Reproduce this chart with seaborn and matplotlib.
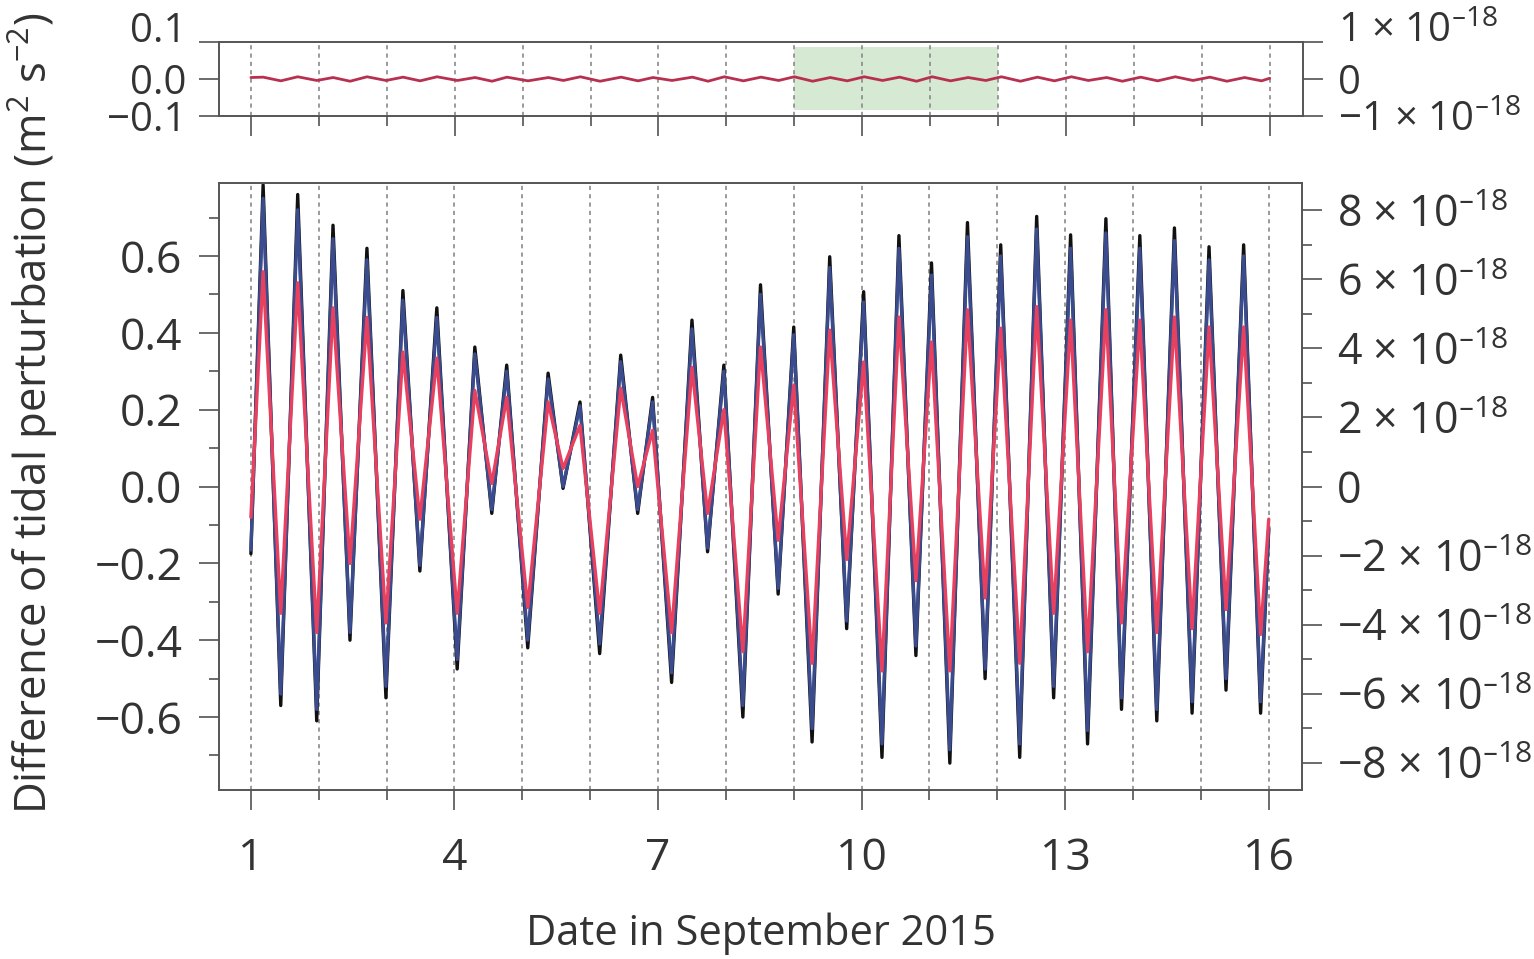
import numpy as np
import pandas as pd
import matplotlib
matplotlib.use("Agg")
import matplotlib.pyplot as plt
import seaborn as sns
from matplotlib.ticker import MultipleLocator, FixedLocator

# extrema (day of September 2015)
day_start, day_end = 1.0, 16.0
peak_days = [1.18, 1.69, 2.21, 2.71, 3.24, 3.74, 4.30, 4.77, 5.38, 5.85, 6.45, 6.92, 7.50, 7.97, 8.51,
             9.00, 9.53, 10.03, 10.55, 11.03, 11.56, 12.05, 12.58, 13.08, 13.60, 14.10, 14.61, 15.12, 15.63]
trough_days = [1.44, 1.97, 2.46, 2.99, 3.49, 4.04, 4.55, 5.08, 5.60, 6.14, 6.70, 7.20, 7.73, 8.25, 8.77,
               9.27, 9.78, 10.30, 10.80, 11.30, 11.82, 12.33, 12.83, 13.33, 13.83, 14.35, 14.87, 15.37, 15.88]

black_peaks = [0.785, 0.76, 0.68, 0.62, 0.51, 0.465, 0.363, 0.316, 0.295, 0.22, 0.342, 0.232, 0.433, 0.316, 0.525,
               0.415, 0.598, 0.507, 0.653, 0.582, 0.687, 0.629, 0.703, 0.655, 0.697, 0.653, 0.673, 0.624, 0.629]
black_troughs = [-0.57, -0.61, -0.40, -0.55, -0.22, -0.475, -0.07, -0.42, -0.005, -0.435, -0.07, -0.51, -0.17, -0.60, -0.28,
                 -0.665, -0.37, -0.705, -0.44, -0.72, -0.50, -0.705, -0.55, -0.67, -0.58, -0.61, -0.59, -0.53, -0.59]
blue_peaks = [0.75, 0.72, 0.645, 0.59, 0.485, 0.44, 0.345, 0.30, 0.28, 0.21, 0.325, 0.22, 0.41, 0.30, 0.50,
              0.395, 0.57, 0.48, 0.62, 0.55, 0.65, 0.60, 0.67, 0.62, 0.66, 0.62, 0.64, 0.59, 0.60]
blue_troughs = [-0.54, -0.58, -0.38, -0.52, -0.205, -0.45, -0.06, -0.40, 0.0, -0.41, -0.06, -0.485, -0.16, -0.57, -0.265,
                -0.63, -0.35, -0.67, -0.415, -0.685, -0.475, -0.67, -0.52, -0.635, -0.55, -0.58, -0.56, -0.50, -0.56]
red_peaks = [0.559, 0.53, 0.465, 0.44, 0.35, 0.334, 0.25, 0.232, 0.22, 0.159, 0.256, 0.146, 0.31, 0.20, 0.363,
             0.264, 0.407, 0.324, 0.441, 0.376, 0.46, 0.412, 0.468, 0.433, 0.46, 0.433, 0.441, 0.415, 0.415]
red_troughs = [-0.33, -0.38, -0.20, -0.355, -0.085, -0.33, 0.008, -0.315, 0.047, -0.33, 0.0, -0.38, -0.07, -0.43, -0.14,
               -0.46, -0.19, -0.48, -0.245, -0.48, -0.29, -0.46, -0.33, -0.43, -0.355, -0.38, -0.37, -0.32, -0.385]
black_ends = (-0.175, -0.11)
blue_ends = (-0.165, -0.105)
red_ends = (-0.08, -0.085)

# residual shown in the small top panel
res_peaks = [0.005, 0.006, 0.004, 0.006, 0.005, 0.006, 0.004, 0.005, 0.004, 0.006, 0.005, 0.004, 0.005, 0.006, 0.005,
             0.006, 0.004, 0.006, 0.005, 0.006, 0.004, 0.006, 0.005, 0.006, 0.004, 0.005, 0.006, 0.005, 0.004]
res_troughs = [-0.005, -0.004, -0.006, -0.004, -0.005, -0.004, -0.006, -0.005, -0.004, -0.006, -0.005, -0.004, -0.006, -0.005, -0.004,
               -0.006, -0.005, -0.004, -0.006, -0.005, -0.004, -0.006, -0.005, -0.004, -0.006, -0.005, -0.004, -0.006, -0.005]
res_ends = (0.004, 0.002)

highlight = (9, 12)
major_days = [1, 4, 7, 10, 13, 16]
C2_SCALE = 11.127  # 1/c^2 in units of 1e-18 s^2 m^-2


def trace(ends, peaks, troughs):
    vals = [ends[0]]
    for p, t in zip(peaks, troughs):
        vals += [p, t]
    return vals + [ends[1]]


def sci(v):
    if v == 0:
        return "0"
    sign = "\u2212" if v < 0 else ""
    return f"{sign}{abs(v)} \u00d7 10$^{{\\mathregular{{\u201318}}}}$"


days = trace((day_start, day_end), peak_days, trough_days)
df = pd.concat([
    pd.DataFrame({"day": days, "value": trace(black_ends, black_peaks, black_troughs), "series": "black"}),
    pd.DataFrame({"day": days, "value": trace(blue_ends, blue_peaks, blue_troughs), "series": "blue"}),
    pd.DataFrame({"day": days, "value": trace(red_ends, red_peaks, red_troughs), "series": "red"}),
])
res_df = pd.DataFrame({"day": days, "value": trace(res_ends, res_peaks, res_troughs)})

sns.set_theme(style="ticks")
plt.rcParams["font.family"] = ["Open Sans", "DejaVu Sans"]
plt.rcParams["axes.edgecolor"] = "#555555"
plt.rcParams["axes.linewidth"] = 1.2

W, H = 1534, 959
fig = plt.figure(figsize=(W / 100, H / 100), dpi=100)
ax_top = fig.add_axes([219 / W, 1 - 116 / H, (1303 - 219) / W, 74 / H])
ax = fig.add_axes([219 / W, 1 - 790 / H, (1302 - 219) / W, 607 / H])

tick_kw = dict(direction="out", color="#444444", width=1.1, labelcolor="#333333")
minor_kw = dict(length=7.2, direction="out", color="#444444", width=1.1)
grid_kw = dict(color="#8a8a8a", linestyle=(0, (2.5, 2.5)), linewidth=1.2)

# main panel
sns.lineplot(data=df, x="day", y="value", hue="series", hue_order=["black", "blue", "red"],
             palette={"black": "#111111", "blue": "#3b4c8e", "red": "#e8405f"},
             estimator=None, sort=False, linewidth=2.4, legend=False, ax=ax)
ax.set_xlim(0.53, 16.49)
ax.set_ylim(-0.79, 0.79)
ax.xaxis.set_major_locator(FixedLocator(major_days))
ax.xaxis.set_minor_locator(MultipleLocator(1))
ax.set_xticks(major_days, [str(d) for d in major_days])
ax.yaxis.set_minor_locator(MultipleLocator(0.1))
yt = [-0.6, -0.4, -0.2, 0.0, 0.2, 0.4, 0.6]
ax.set_yticks(yt, [f"{v:.1f}".replace("-", "\u2212") for v in yt])
ax.grid(True, which="both", axis="x", **grid_kw)
ax.set_axisbelow(True)
ax.tick_params(which="major", length=14.4, labelsize=32, pad=12, **tick_kw)
ax.tick_params(which="minor", **minor_kw)
ax.tick_params(axis="x", pad=19)
ax.set_xlabel("Date in September 2015", fontsize=30, color="#333333", labelpad=23)
ax.set_ylabel("")

ax_r = ax.twinx()
ax_r.set_ylim(-0.79 * C2_SCALE, 0.79 * C2_SCALE)
rt = [-8, -6, -4, -2, 0, 2, 4, 6, 8]
ax_r.set_yticks(rt, [sci(v) for v in rt])
ax_r.yaxis.set_minor_locator(MultipleLocator(1))
ax_r.tick_params(which="major", length=14.4, labelsize=31, pad=11, **tick_kw)
ax_r.tick_params(which="minor", **minor_kw)

# top panel
ax_top.axvspan(*highlight, ymin=0.08, ymax=0.93, color="#d6e9d2", lw=0, zorder=0.2)
sns.lineplot(data=res_df, x="day", y="value", color="#b8304f", linewidth=2.0, estimator=None, sort=False, ax=ax_top)
ax_top.set_xlim(0.53, 16.49)
ax_top.set_ylim(-0.1, 0.1)
ax_top.xaxis.set_major_locator(FixedLocator(major_days))
ax_top.xaxis.set_minor_locator(MultipleLocator(1))
ax_top.grid(True, which="both", axis="x", **grid_kw)
ax_top.set_axisbelow(True)
ax_top.set_yticks([-0.1, 0.0, 0.1], ["\u22120.1", "0.0", "0.1"])
ax_top.tick_params(which="major", length=14.4, labelsize=29, pad=9, **tick_kw)
ax_top.tick_params(which="minor", **minor_kw)
ax_top.tick_params(axis="x", labelbottom=False)
ax_top.set_xlabel("")
ax_top.set_ylabel("")
ax_top.yaxis.get_major_ticks()[2].label1.set_va("baseline")

ax_top_r = ax_top.twinx()
ax_top_r.set_ylim(-1, 1)
ax_top_r.set_yticks([-1, 0, 1], [sci(-1), "0", sci(1)])
ax_top_r.tick_params(which="major", length=14.4, labelsize=29, pad=11, **tick_kw)
ax_top_r.yaxis.get_major_ticks()[2].label2.set_va("baseline")

fig.text(33 / W, 1 - 413 / H, "Difference of tidal perturbation (m$^{\\mathregular{2}}$ s$^{\\mathregular{\u22122}}$)",
         rotation=90, ha="center", va="center", fontsize=31.5, color="#333333")

fig.savefig("out.png", dpi=100)
